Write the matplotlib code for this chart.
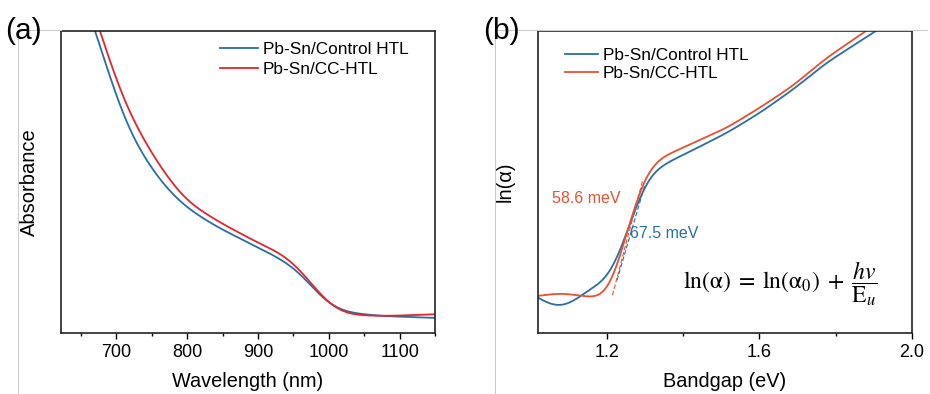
import numpy as np
import matplotlib.pyplot as plt
from matplotlib.lines import Line2D

plt.rcParams['font.family'] = ['Liberation Sans', 'DejaVu Sans']
plt.rcParams['mathtext.fontset'] = 'stix'

col_blue = '#2a6ea6'
col_red_a = '#e3262b'
col_red_b = '#e8502f'

# (a) absorbance (arb. units)
wl_ctrl = [670, 687, 701, 724, 748, 772, 800, 843, 899, 936, 960, 984, 1007, 1031, 1077, 1150]
abs_ctrl = [1.0, 0.88, 0.77, 0.64, 0.55, 0.475, 0.413, 0.35, 0.285, 0.24, 0.20, 0.13, 0.083, 0.066, 0.056, 0.05]
wl_cc = [677, 692, 710, 738, 772, 800, 843, 899, 936, 960, 984, 1007, 1031, 1077, 1150]
abs_cc = [1.0, 0.89, 0.77, 0.64, 0.515, 0.435, 0.37, 0.30, 0.26, 0.21, 0.137, 0.08, 0.06, 0.056, 0.062]

# (b) ln(alpha) vs photon energy
e_ctrl = [1.02, 1.042, 1.077, 1.112, 1.147, 1.19, 1.216, 1.243, 1.269, 1.295, 1.322, 1.357,
          1.426, 1.514, 1.6, 1.687, 1.775, 1.905]
ln_ctrl = [0.117, 0.099, 0.086, 0.103, 0.137, 0.17, 0.209, 0.298, 0.39, 0.48, 0.535, 0.563,
           0.606, 0.662, 0.728, 0.805, 0.894, 1.0]
e_cc = [1.02, 1.077, 1.12, 1.172, 1.2, 1.226, 1.252, 1.278, 1.304, 1.339, 1.426, 1.514,
        1.6, 1.687, 1.775, 1.879]
ln_cc = [0.123, 0.132, 0.126, 0.116, 0.132, 0.209, 0.33, 0.44, 0.53, 0.579, 0.629, 0.679,
         0.745, 0.818, 0.91, 1.0]

# Urbach fits (endpoints)
fit_ctrl_x = [1.227, 1.30]
fit_ctrl_y = [0.175, 0.49]
fit_cc_x = [1.215, 1.295]
fit_cc_y = [0.125, 0.51]


def smooth(x, y, sigma, n=800):
    # linear interpolation, then gaussian smoothing (odd reflection at ends)
    x = np.asarray(x, float); y = np.asarray(y, float)
    t = np.linspace(x[0], x[-1], n)
    v = np.interp(t, x, y)
    dt = t[1] - t[0]
    k = int(4 * sigma / dt)
    g = np.exp(-0.5 * (np.arange(-k, k + 1) * dt / sigma) ** 2)
    g /= g.sum()
    pad = np.concatenate([2 * v[0] - v[k:0:-1], v, 2 * v[-1] - v[-2:-k - 2:-1]])
    return t, np.convolve(pad, g, mode='valid')


fig = plt.figure(figsize=(9.3, 3.94), dpi=100)
ax1 = fig.add_axes([0.0656, 0.1548, 0.4022, 0.7665])
ax2 = fig.add_axes([0.5785, 0.1548, 0.4022, 0.7665])

# faint frame lines from the original composition
for x0, x1 in [(18, 61), (495, 927)]:
    fig.add_artist(Line2D([x0 / 930, x1 / 930], [1 - 30 / 394] * 2, color='#cccccc', lw=0.8))
    fig.add_artist(Line2D([x0 / 930] * 2, [0, 1 - 30 / 394], color='#cccccc', lw=0.8))

x, y = smooth(wl_ctrl, abs_ctrl, 15)
ax1.plot(x, y, color=col_blue, lw=1.3, label='Pb-Sn/Control HTL')
x, y = smooth(wl_cc, abs_cc, 15)
ax1.plot(x, y, color=col_red_a, lw=1.3, label='Pb-Sn/CC-HTL')
ax1.set_xlim(622, 1150)
ax1.set_ylim(0, 1)
ax1.set_xticks([700, 800, 900, 1000, 1100])
ax1.set_xticks([650, 750, 850, 950, 1050, 1150], minor=True)
ax1.set_yticks([])
ax1.set_xlabel('Wavelength (nm)', fontsize=14.3, labelpad=8)
ax1.set_ylabel('Absorbance', fontsize=14.5, labelpad=16)
ax1.legend(loc='upper left', frameon=False, fontsize=12.4, handlelength=2.2,
           handletextpad=0.3, labelspacing=0.25, borderpad=0, borderaxespad=0,
           bbox_to_anchor=(0.425, 0.963))

x, y = smooth(e_ctrl, ln_ctrl, 0.02)
ax2.plot(x, y, color=col_blue, lw=1.3, label='Pb-Sn/Control HTL')
x, y = smooth(e_cc, ln_cc, 0.02)
ax2.plot(x, y, color=col_red_b, lw=1.3, label='Pb-Sn/CC-HTL')
ax2.plot(fit_ctrl_x, fit_ctrl_y, color=col_blue, lw=0.8, ls=(0, (4, 2)))
ax2.plot(fit_cc_x, fit_cc_y, color=col_red_b, lw=0.8, ls=(0, (4, 2)))
ax2.set_xlim(1.02, 2.0)
ax2.set_ylim(0, 1)
ax2.set_xticks([1.2, 1.6, 2.0])
ax2.set_xticklabels(['1.2', '1.6', '2.0'])
ax2.set_xticks([1.4, 1.8], minor=True)
ax2.set_yticks([])
ax2.set_xlabel('Bandgap (eV)', fontsize=14.3, labelpad=8)
ax2.set_ylabel('ln(α)', fontsize=14.5, labelpad=17)
ax2.legend(loc='upper left', frameon=False, fontsize=12.4, handlelength=1.9,
           handletextpad=0.3, labelspacing=0.18, borderpad=0, borderaxespad=0,
           bbox_to_anchor=(0.072, 0.944))
ax2.text(1.056, 0.445, '58.6 meV', color=col_red_b, fontsize=11.5, va='center')
ax2.text(1.26, 0.33, '67.5 meV', color=col_blue, fontsize=11.5, va='center')
ax2.text(1.656, 0.165, r'$\mathrm{ln}(\mathrm{\alpha})\;=\;\mathrm{ln}(\mathrm{\alpha}_0)\;+\;\dfrac{hv}{\mathrm{E}_u}$',
         fontsize=17, ha='center', va='center')

for ax in (ax1, ax2):
    for s in ax.spines.values():
        s.set_linewidth(1.2)
        s.set_color('#222222')
    ax.tick_params(axis='x', which='major', direction='out', length=4, width=1, labelsize=13, pad=4)
    ax.tick_params(axis='x', which='minor', direction='out', length=2.5, width=1)

fig.text(5 / 930, 1 - 39 / 394, '(a)', fontsize=21.5, va='baseline')
fig.text(483 / 930, 1 - 39 / 394, '(b)', fontsize=21.5, va='baseline')

fig.savefig('out.png', dpi=100)
